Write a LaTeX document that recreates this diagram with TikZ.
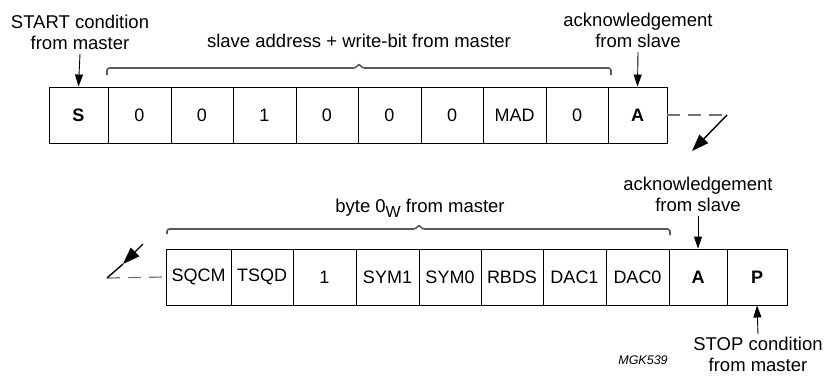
\documentclass[tikz,border=0pt]{standalone}
\usepackage{fontspec}
\setmainfont{Liberation Sans}
\usetikzlibrary{arrows.meta}
\begin{document}
\begin{tikzpicture}[x=1pt,y=-1pt,
  cell/.style={draw=black, line width=0.9pt, minimum height=56pt, inner sep=0pt, font=\fontsize{18}{20}\selectfont},
  lbl/.style={align=center, inner sep=0pt, font=\fontsize{18.5}{21}\selectfont},
  arr/.style={line width=0.9pt, -{Triangle[length=12pt,width=8pt]}},
  bracket/.style={draw=black!65, line width=1.6pt, rounded corners=2.5pt},
  dsh/.style={draw=black!55, line width=1.2pt, dash pattern=on 13pt off 8pt},
  bigarr/.style={line width=1.4pt, -{Triangle[length=17pt,width=12pt]}}
]
\useasboundingbox (0,0) rectangle (827,380);

% ---- top row
\node[cell, minimum width=59pt, font=\fontsize{18}{20}\selectfont\bfseries] (tS) at (78.5,115) {S};
\node[cell, minimum width=63pt] (t1) at (139.5,115) {0};
\node[cell, minimum width=62pt] (t2) at (202,115) {0};
\node[cell, minimum width=63pt] (t3) at (264.5,115) {1};
\node[cell, minimum width=62pt] (t4) at (327,115) {0};
\node[cell, minimum width=63pt] (t5) at (389.5,115) {0};
\node[cell, minimum width=62pt] (t6) at (452,115) {0};
\node[cell, minimum width=63pt] (t7) at (514.5,115) {MAD};
\node[cell, minimum width=62pt] (t8) at (577,115) {0};
\node[cell, minimum width=59pt, font=\fontsize{18}{20}\selectfont\bfseries] (tA) at (637.5,115) {A};

% ---- top labels
\node[lbl, anchor=north] (startlbl) at (80,15) {START condition\\from master};
\node[lbl, anchor=base] (addrlbl) at (359,47) {slave address + write-bit from master};
\node[lbl, anchor=north] (acklbl1) at (638,13) {acknowledgement\\from slave};

\draw[arr] ([yshift=-4pt]startlbl.south) -- (tS.north);
\draw[arr] ([yshift=-4pt]acklbl1.south) -- (tA.north);

\draw[bracket] (107,75) -- (107,68) -- (356,68) -- (359,63.5) -- (362,68) -- (611,68) -- (611,75);

% ---- top continuation
\coordinate (tc1) at (727,115);
\coordinate (tc2) at (692,151);
\draw[dsh] (tA.east) -- (tc1);
\draw[bigarr] (tc1) -- (tc2);

% ---- bottom row
\node[cell, minimum width=65pt] (b1) at (198.5,277) {SQCM};
\node[cell, minimum width=62pt] (b2) at (262,277) {TSQD};
\node[cell, minimum width=63pt] (b3) at (324.5,277) {1};
\node[cell, minimum width=63pt] (b4) at (387.5,277) {SYM1};
\node[cell, minimum width=62pt] (b5) at (450,277) {SYM0};
\node[cell, minimum width=62pt] (b6) at (512,277) {RBDS};
\node[cell, minimum width=63pt] (b7) at (574.5,277) {DAC1};
\node[cell, minimum width=63pt] (b8) at (637.5,277) {DAC0};
\node[cell, minimum width=58pt, font=\fontsize{18}{20}\selectfont\bfseries] (bA) at (698,277) {A};
\node[cell, minimum width=60pt, font=\fontsize{18}{20}\selectfont\bfseries] (bP) at (757,277) {P};

% ---- bottom labels
\node[lbl, anchor=base] (bytelbl) at (420,212) {byte 0\raisebox{-5pt}{\fontsize{16}{16}\selectfont W} from master};
\draw[bracket] (167,234) -- (167,229) -- (416,229) -- (419,224.5) -- (422,229) -- (670,229) -- (670,235);

\node[lbl, anchor=north] (acklbl2) at (698,177) {acknowledgement\\from slave};
\draw[arr] ([yshift=-4pt]acklbl2.south) -- (bA.north);

\node[lbl, anchor=north] (stoplbl) at (758,337) {STOP condition\\from master};
\draw[arr] ([yshift=3pt]stoplbl.north) -- (bP.south);

\node[inner sep=0pt, anchor=base, font=\fontsize{12.5}{14}\selectfont\itshape] (mgk) at (643,364) {MGK539};

% ---- bottom continuation
\coordinate (bc0) at (143,244);
\coordinate (bcm) at (123,264);
\coordinate (bc1) at (107,278);
\draw[dsh] (bc1) -- (b1.west);
\draw[line width=1.4pt] (bc1) -- (bcm);
\draw[bigarr] (bc0) -- (bcm);
\end{tikzpicture}
\end{document}
